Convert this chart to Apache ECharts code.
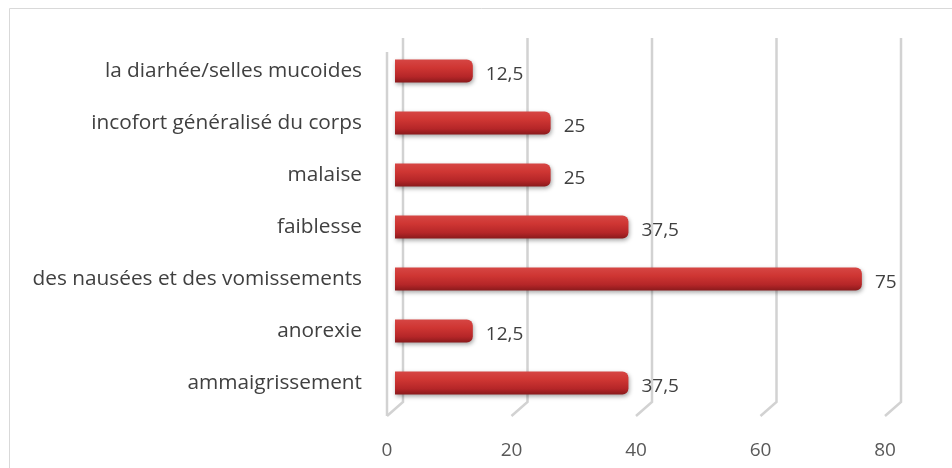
<!DOCTYPE html>
<html>
<head>
<meta charset="utf-8">
<script src="https://cdn.jsdelivr.net/npm/echarts@6/dist/echarts.min.js"></script>
<style>
  html, body { margin: 0; padding: 0; background: #ffffff; }
  #chart { width: 952px; height: 468px; }
</style>
</head>
<body>
<div id="chart"></div>
<script>
// Symptom categories, listed bottom-to-top as the category axis draws them
var categories = [
  'ammaigrissement',
  'anorexie',
  'des nausées et des vomissements',
  'faiblesse',
  'malaise',
  'incofort généralisé du corps',
  'la diarhée/selles mucoides'
];
var percentages = [37.5, 12.5, 75, 37.5, 25, 25, 12.5];
var xTicks = [0, 20, 40, 60, 80];

var DEPTH_X = 8, DEPTH_Y = 7; // half-depth of the pseudo-3D walls

function fmt(v) { return String(v).replace('.', ','); }

var chart = echarts.init(document.getElementById('chart'));
chart.setOption({
  animation: false,
  backgroundColor: '#ffffff',
  textStyle: { fontFamily: 'Open Sans, sans-serif' },
  graphic: [{
    type: 'rect',
    shape: { x: 9.5, y: 8.5, width: 1000, height: 500 },
    style: { fill: 'none', stroke: '#d9d9d9', lineWidth: 1 },
    silent: true
  }],
  grid: { left: 395, right: 59, top: 45, bottom: 59, containLabel: false },
  xAxis: {
    type: 'value',
    min: 0, max: 80, interval: 20,
    axisLine: { show: false },
    axisTick: { show: false },
    splitLine: { show: false },
    axisLabel: {
      color: '#595959', fontSize: 19, margin: 32,
      padding: [0, 2 * DEPTH_X, 0, 0]
    }
  },
  yAxis: {
    type: 'category',
    data: categories,
    axisLine: { show: false },
    axisTick: { show: false },
    axisLabel: { color: '#404040', fontSize: 20.8, margin: 33, padding: [4, 0, 0, 0] }
  },
  series: [
    {
      // gridlines drawn as back-wall verticals folding onto the floor
      type: 'custom',
      silent: true,
      z: 1,
      data: xTicks.map(function (t) { return [t]; }),
      encode: { x: 0 },
      renderItem: function (params, api) {
        var cs = params.coordSys;
        var x = api.coord([api.value(0), 0])[0];
        var top = cs.y, bot = cs.y + cs.height;
        var bx = x + DEPTH_X, fx = x - DEPTH_X;
        var children = [{
          type: 'polyline',
          shape: { points: [[bx, top - DEPTH_Y], [bx, bot - DEPTH_Y], [fx, bot + DEPTH_Y]] },
          style: { fill: 'none', stroke: '#d2d2d2', lineWidth: 2.5 }
        }];
        if (api.value(0) === 0) {
          children.push({
            type: 'line',
            shape: { x1: fx, y1: top + DEPTH_Y, x2: fx, y2: bot + DEPTH_Y },
            style: { stroke: '#d2d2d2', lineWidth: 2.5 }
          });
        }
        return { type: 'group', children: children };
      }
    },
    {
      type: 'bar',
      data: percentages,
      barWidth: 23,
      z: 3,
      itemStyle: {
        borderRadius: [0, 6, 6, 0],
        color: {
          type: 'linear', x: 0, y: 0, x2: 0, y2: 1,
          colorStops: [
            { offset: 0, color: '#d64644' },
            { offset: 0.35, color: '#cf3633' },
            { offset: 0.75, color: '#b52628' },
            { offset: 1, color: '#8a1a1c' }
          ]
        },
        shadowColor: 'rgba(0,0,0,0.35)',
        shadowBlur: 4,
        shadowOffsetX: 1,
        shadowOffsetY: 2
      },
      label: {
        show: true,
        position: 'right',
        distance: 13,
        offset: [0, 4],
        color: '#404040',
        fontSize: 19,
        formatter: function (p) { return fmt(p.value); }
      }
    }
  ]
});
</script>
</body>
</html>
